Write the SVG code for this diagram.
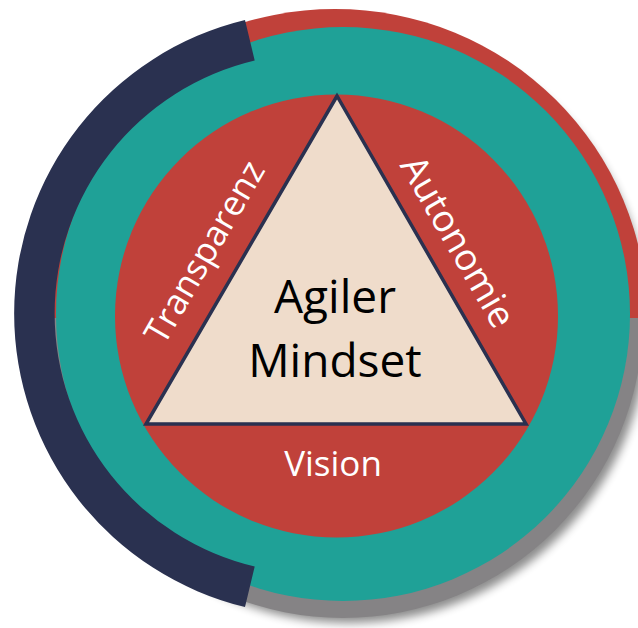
<svg xmlns="http://www.w3.org/2000/svg" width="638" height="628" viewBox="0 0 638 628">
  <defs>
    <filter id="blur" x="-20%" y="-20%" width="140%" height="140%">
      <feGaussianBlur stdDeviation="5"/>
    </filter>
    <style>
      .red { fill: #c0413a; }
      .teal { fill: #1fa197; }
      .navy { fill: #2a3150; }
      .gray { fill: #858385; }
      .lbl { font-family: "Open Sans", "DejaVu Sans", sans-serif; fill: #ffffff; font-size: 35px; text-anchor: middle; }
      .main { font-family: "Open Sans", "DejaVu Sans", sans-serif; fill: #000000; font-size: 46px; text-anchor: middle; }
    </style>
  </defs>
  <rect width="638" height="628" fill="#ffffff"/>
  <g id="outer-ring">
    <circle cx="349" cy="324" r="299" fill="#000" opacity="0.45" filter="url(#blur)"/>
    <circle class="gray" cx="343" cy="318" r="300"/>
    <path class="red" d="M 23 318 A 312 309 0 0 1 647 318 Z"/>
    <circle class="teal" cx="343" cy="314" r="287"/>
    <path class="navy" d="M 245 20 A 302 302 0 0 0 245 607 L 254.7 566.5 A 260 260 0 0 1 254.7 60.5 Z"/>
  </g>
  <g id="inner-circle">
    <circle class="red" cx="336.5" cy="316" r="221.5"/>
  </g>
  <g id="triangle">
    <polygon points="337,96 146,424 526,424" fill="#efdccb" stroke="#2a3150" stroke-width="3.5" stroke-linejoin="miter"/>
    <text class="main" x="335" y="313">Agiler</text>
    <text class="main" x="335" y="377">Mindset</text>
  </g>
  <g id="label-transparenz">
    <text class="lbl" transform="translate(215,258) rotate(-60)">Transparenz</text>
  </g>
  <g id="label-autonomie">
    <text class="lbl" style="font-size:37px" transform="translate(447,248) rotate(60)">Autonomie</text>
  </g>
  <g id="label-vision">
    <text class="lbl" x="333" y="476">Vision</text>
  </g>
</svg>
